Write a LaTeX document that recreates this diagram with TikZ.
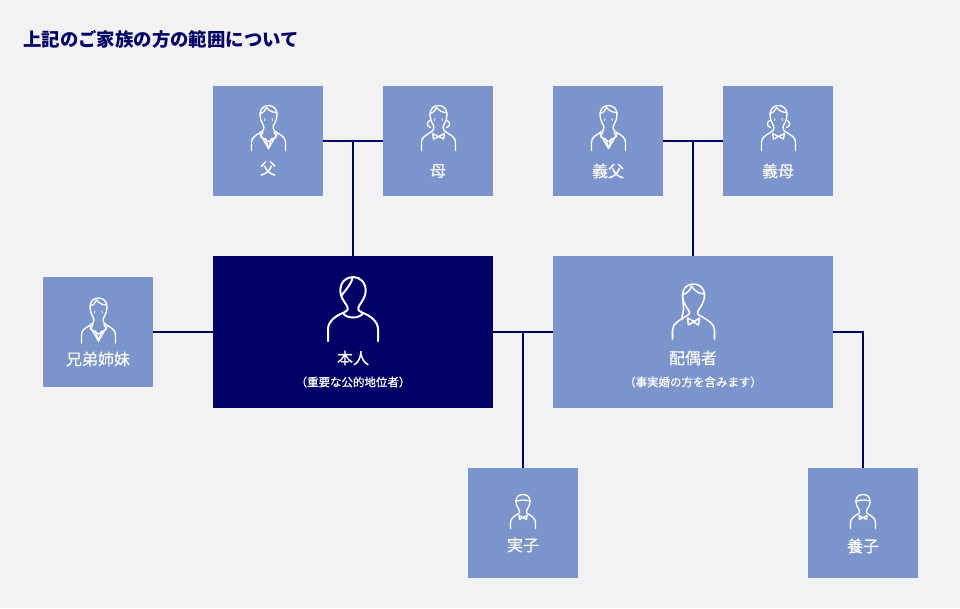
\documentclass[tikz,border=0pt]{standalone}
\usepackage{fontspec}
\setmainfont{Noto Sans CJK JP}
\newfontfamily\medf[FakeBold=0.25]{Noto Sans CJK JP}
\newfontfamily\subf[FakeBold=0.6]{Noto Sans CJK JP}
\definecolor{bgc}{HTML}{F2F2F2}
\definecolor{boxc}{HTML}{7B95CC}
\definecolor{navy}{HTML}{000066}
\newcommand{\hd}[1]{\fontsize{#1}{#1}\selectfont}
\tikzset{
  x=0.75pt,y=-0.75pt,
  person/.style={rectangle,fill=boxc,draw=none,minimum width=82.5pt,minimum height=82.5pt,inner sep=0pt},
  widebox/.style={rectangle,draw=none,minimum width=210pt,minimum height=114pt,inner sep=0pt},
  link/.style={draw=navy,line width=1.5pt},
  lab/.style={text=white,inner sep=0pt,font=\medf\hd{12}},
  sublab/.style={text=white,inner sep=0pt,font=\subf\hd{8.6}},
  ico/.style={draw=white,line width=1pt,line cap=round,line join=round,fill=none},
  pics/manicon/.style={code={
    \draw[ico] (-17,45) -- (-17,37) .. controls (-17,32) and (-13,30) .. (-9,27.5) .. controls (-6,26) and (-4.5,24.5) .. (-4.5,22) .. controls (-4.5,19.5) and (-8.5,16) .. (-8.5,9) .. controls (-8.5,3) and (-4.5,0) .. (0,0) .. controls (4.5,0) and (8.5,3) .. (8.5,9) .. controls (8.5,16) and (4.5,19.5) .. (4.5,22) .. controls (4.5,24.5) and (6,26) .. (9,27.5) .. controls (13,30) and (17,32) .. (17,37) -- (17,45);
    \draw[ico] (-8.5,8) .. controls (-5,7) and (-3,5) .. (-2,2) .. controls (1,6) and (5,7) .. (8.5,7);
    \draw[ico] (-9,27.5) -- (0,43) -- (9,27.5);
    \draw[ico] (-5.5,26.5) -- (-8,31) -- (0,36) -- (8,31) -- (5.5,26.5);
    \draw[ico] (-3,33) -- (0,43) -- (3,33);
    \draw[ico,line width=0.6pt] (-3.5,13) -- (-4,15) (3.5,13) -- (4,15);
  }},
  pics/womanicon/.style={code={
    \draw[ico] (-17,45) -- (-17,37) .. controls (-17,32) and (-13,30) .. (-9,27.5) .. controls (-6,26) and (-4.5,24.5) .. (-4.5,22) .. controls (-4.5,19.5) and (-8.5,16) .. (-8.5,9) .. controls (-8.5,3) and (-4.5,0) .. (0,0) .. controls (4.5,0) and (8.5,3) .. (8.5,9) .. controls (8.5,16) and (4.5,19.5) .. (4.5,22) .. controls (4.5,24.5) and (6,26) .. (9,27.5) .. controls (13,30) and (17,32) .. (17,37) -- (17,45);
    \draw[ico] (-8.5,8) .. controls (-5,7) and (-3,5) .. (-2,2) .. controls (1,6) and (5,7) .. (8.5,7);
    \draw[ico] (-8.5,15) .. controls (-12,16) and (-12,21) .. (-8,22);
    \draw[ico] (8.5,15) .. controls (12,16) and (12,21) .. (8,22);
    \draw[ico] (0,31) -- (-6,28) -- (-5,33.5) -- (0,31) -- (6,28) -- (5,33.5) -- cycle;
    \draw[ico,line width=0.6pt] (-3.5,13) -- (-4,15) (3.5,13) -- (4,15);
  }},
  pics/selficon/.style={code={
    \draw[ico,line width=1.5pt] (-25,64) -- (-25,52) .. controls (-25,44) and (-16,38) .. (-10,36) .. controls (-6,34) and (-4,33) .. (-6,29) .. controls (-9,24) and (-12.7,20) .. (-12.7,14) .. controls (-12.7,5) and (-7,0) .. (0,0) .. controls (7,0) and (12.7,5) .. (12.7,14) .. controls (12.7,20) and (9,24) .. (6,29) .. controls (4,33) and (6,34) .. (10,36) .. controls (16,38) and (25,44) .. (25,52) -- (25,64);
    \draw[ico,line width=1.5pt] (-10,36) .. controls (-7,42) and (7,42) .. (10,36);
    \draw[ico,line width=1.5pt] (-0.5,0.5) .. controls (-1,6) and (-6,11) .. (-11,18);
  }},
  pics/spouseicon/.style={code={
    \draw[ico,line width=1.15pt] (-21,55) -- (-21,46) .. controls (-21,39) and (-13,36) .. (-9,33) (9,33) .. controls (13,36) and (21,39) .. (21,46) -- (21,55);
    \draw[ico,line width=1.15pt] (-9,33) .. controls (-4,31) and (-3,29) .. (-5,26) .. controls (-8,22) and (-11,17) .. (-11,11) .. controls (-11,4) and (-6,0) .. (0,0) .. controls (6,0) and (11,4) .. (11,11) .. controls (11,17) and (8,22) .. (5,26) .. controls (3,29) and (4,31) .. (9,33);
    \draw[ico,line width=1.15pt] (-11,11) .. controls (-6,9) and (-3,6) .. (-2,2) .. controls (1,7) and (6,10) .. (11,10);
    \draw[ico,line width=1.15pt] (-11,11) .. controls (-11,18) and (-9,24) .. (-10.5,29) .. controls (-11.5,32) and (-12,33) .. (-11,35);
    \draw[ico,line width=1.15pt] (0,37) -- (-6,34) -- (-5,41) -- (0,38) -- (6,34) -- (5,41) -- (0,38) -- cycle;
  }},
  pics/childicon/.style={code={
    \draw[ico] (-12.5,34) -- (-12.5,28) .. controls (-12.5,24) and (-8,21) .. (-6,20) .. controls (-3,19) and (-3,17) .. (-4,15) .. controls (-5,13) and (-7,11) .. (-7,7) .. controls (-7,2) and (-4,0) .. (0,0) .. controls (4,0) and (7,2) .. (7,7) .. controls (7,11) and (5,13) .. (4,15) .. controls (3,17) and (3,19) .. (6,20) .. controls (8,21) and (12.5,24) .. (12.5,28) -- (12.5,34);
    \draw[ico] (-7,6) .. controls (-5.5,8) and (-5,5) .. (-3.5,6) .. controls (-2,7) and (-1.5,4.5) .. (0,5.5) .. controls (1.5,6.5) and (2,4.5) .. (3.5,6) .. controls (5,7) and (5.5,5) .. (7,6);
    \draw[ico] (0,23) -- (-4,21) -- (-3.5,25) -- (0,23) -- (4,21) -- (3.5,25) -- cycle;
  }},
}
\begin{document}
\begin{tikzpicture}
\useasboundingbox[fill=bgc] (0,0) rectangle (960,608);
\node[anchor=west,inner sep=0pt,text=navy,font=\bfseries\hd{13.8}] (title) at (23,39.5) {上記のご家族の方の範囲について};
% boxes
\node[person] (fa) at (268,141) {};
\node[person] (mo) at (438,141) {};
\node[person] (gfa) at (608,141) {};
\node[person] (gmo) at (778,141) {};
\node[person] (sib) at (98,332) {};
\node[widebox,fill=navy] (self) at (353,332) {};
\node[widebox,fill=boxc] (sp) at (693,332) {};
\node[person] (ch) at (523,523) {};
\node[person] (ad) at (863,523) {};
% connectors
\draw[link] (fa.east) -- (mo.west);
\draw[link] (gfa.east) -- (gmo.west);
\draw[link] (self.north) -- (self.north |- fa.east);
\draw[link] (sp.north) -- (sp.north |- gfa.east);
\draw[link] (sib.east) -- (self.west);
\draw[link] (self.east) -- (sp.west);
\draw[link] (ch.north) -- (ch.north |- self.east);
\draw[link] (sp.east) -| (ad.north);
% icons
\pic at (268.5,105.5) {manicon};
\pic at (438.5,105.5) {womanicon};
\pic at (608.5,105.5) {manicon};
\pic at (778.5,105.5) {womanicon};
\pic at (98.5,298) {manicon};
\pic at (353,277) {selficon};
\pic at (693.5,284) {spouseicon};
\pic at (523,494.5) {childicon};
\pic at (863,494.5) {childicon};
% labels
\node[lab] (l1) at (268,168.5) {父};
\node[lab] (l2) at (438,171) {母};
\node[lab] (l3) at (608,171) {義父};
\node[lab] (l4) at (778,171) {義母};
\node[lab] (l5) at (98,359) {兄弟姉妹};
\node[lab] (l6) at (353,358) {本人};
\node[sublab] (l7) at (353,382) {（重要な公的地位者）};
\node[lab] (l8) at (693,358) {配偶者};
\node[sublab] (l9) at (693,382) {（事実婚の方を含みます）};
\node[lab] (l10) at (523,545) {実子};
\node[lab] (l11) at (863,546) {養子};
\end{tikzpicture}
\end{document}
